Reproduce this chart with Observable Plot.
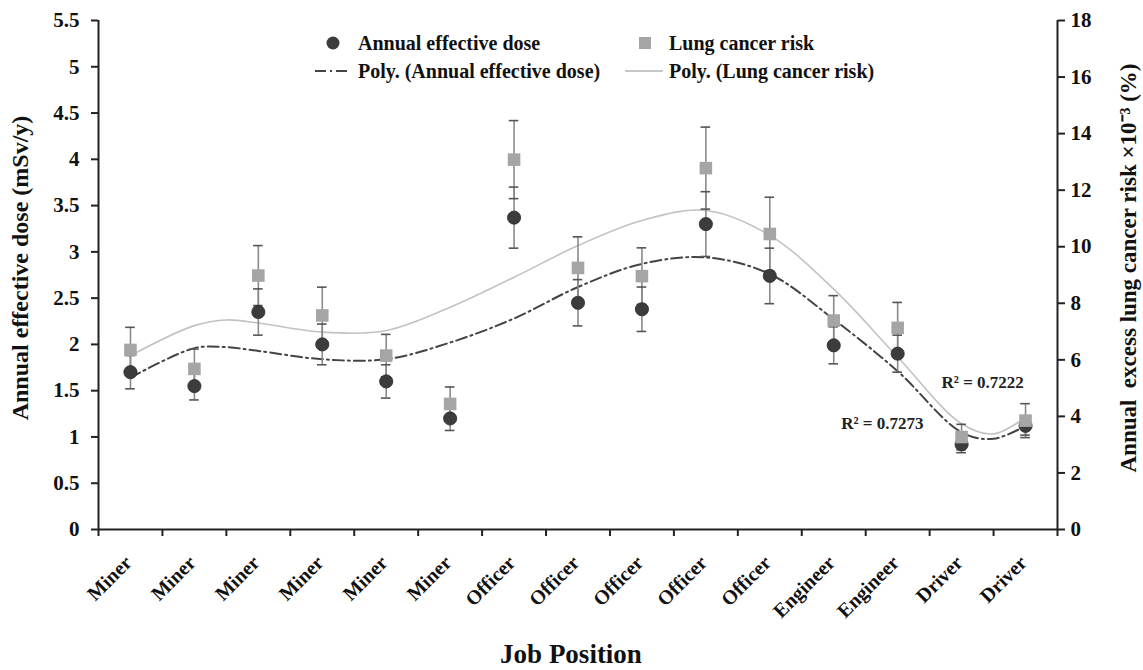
<!DOCTYPE html>
<html>
<head>
<meta charset="utf-8">
<script src="https://cdn.jsdelivr.net/npm/d3@7"></script>
<script src="https://cdn.jsdelivr.net/npm/@observablehq/plot@0.6"></script>
<style>
  html, body { margin: 0; padding: 0; background: #fff; }
  #chart { width: 1143px; height: 670px; }
</style>
</head>
<body>
<div id="chart"></div>
<script>
// ---- Data ----
const categories = ["Miner","Miner","Miner","Miner","Miner","Miner","Officer","Officer","Officer","Officer","Officer","Engineer","Engineer","Driver","Driver"];
const dose    = [1.70, 1.55, 2.35, 2.00, 1.60, 1.20, 3.37, 2.45, 2.38, 3.30, 2.74, 1.99, 1.90, 0.92, 1.12];
const doseErr = [0.18, 0.15, 0.25, 0.22, 0.18, 0.13, 0.33, 0.25, 0.24, 0.35, 0.30, 0.20, 0.20, 0.09, 0.10];
const risk    = [6.35, 5.68, 8.98, 7.57, 6.15, 4.44, 13.08, 9.25, 8.96, 12.78, 10.45, 7.39, 7.13, 3.27, 3.85];
const riskErr = [0.80, 0.70, 1.06, 1.00, 0.75, 0.60, 1.38, 1.10, 1.00, 1.45, 1.30, 0.88, 0.90, 0.45, 0.60];

// polynomial trend lines at these job-position indices
const trendPos   = [0, 1, 1.5, 2, 3, 4, 5, 6, 7, 8, 9, 10, 11, 12, 13, 13.5, 14];
const doseTrend  = [1.64, 1.96, 1.97, 1.93, 1.84, 1.84, 2.02, 2.28, 2.62, 2.87, 2.94, 2.76, 2.27, 1.71, 1.05, 0.98, 1.12];
const riskTrend  = [6.15, 7.21, 7.41, 7.30, 6.98, 7.04, 7.86, 8.92, 10.04, 10.93, 11.28, 10.40, 8.50, 6.10, 3.74, 3.38, 3.97];

const leftTicks  = [0, 0.5, 1, 1.5, 2, 2.5, 3, 3.5, 4, 4.5, 5, 5.5];
const rightTicks = [0, 2, 4, 6, 8, 10, 12, 14, 16, 18];

const r2Labels = [
  {text: "R² = 0.7222", pos: 13.33, value: 1.59},
  {text: "R² = 0.7273", pos: 11.76, value: 1.15}
];

const leftMax = 5.5, rightMax = 18;
const k = leftMax / rightMax;   // maps right-axis units to left-axis units

const rows = categories.map((c, i) => ({
  i, cat: c, dose: dose[i], de: doseErr[i], risk: risk[i] * k, re: riskErr[i] * k
}));
const trendRows = trendPos.map((p, j) => ({p, dose: doseTrend[j], risk: riskTrend[j] * k}));
const boundaries = d3.range(categories.length + 1).map(b => b - 0.5);

const FONT = "'Liberation Serif', 'Times New Roman', serif";
const DARK = "#3c3c3c", LIGHT = "#a5a5a5";

const plot = Plot.plot({
  width: 1143, height: 670,
  marginLeft: 98, marginRight: 86, marginTop: 20, marginBottom: 141,
  style: {fontFamily: FONT, fontWeight: "bold", fontSize: "21px", color: "#111", background: "#fff"},
  x: {domain: [-0.5, categories.length - 0.5], axis: null},
  y: {domain: [0, leftMax], axis: null},
  marks: [
    // axes
    Plot.axisY({anchor: "left", ticks: leftTicks, tickFormat: d => String(d), tickSize: 7, tickPadding: 12, label: null, fontSize: 21, stroke: "#222", strokeWidth: 2}),
    Plot.axisY({anchor: "right", ticks: rightTicks.map(t => t * k), tickFormat: d => String(Math.round(d / k)), tickSize: 7, tickPadding: 6, label: null, fontSize: 21, stroke: "#222", strokeWidth: 2}),
    Plot.axisX({anchor: "bottom", ticks: boundaries, tickFormat: () => "", tickSize: 7, label: null, stroke: "#222", strokeWidth: 2}),
    Plot.ruleX([-0.5, categories.length - 0.5], {stroke: "#222", strokeWidth: 2}),
    Plot.ruleY([0], {stroke: "#222", strokeWidth: 2}),
    // category labels
    Plot.text(rows, {x: "i", text: "cat", frameAnchor: "bottom", dy: 30, dx: -2, rotate: -45, textAnchor: "end", lineAnchor: "middle", fontSize: 20, fontWeight: "bold", fill: "#111"}),
    // trend lines
    Plot.line(trendRows, {x: "p", y: "risk", curve: "catmull-rom", stroke: "#c2c2c2", strokeWidth: 1.6}),
    Plot.line(trendRows, {x: "p", y: "dose", curve: "catmull-rom", stroke: "#444", strokeWidth: 2, strokeDasharray: "11,4,2,4"}),
    // error bars
    Plot.ruleX(rows, {x: "i", y1: d => d.dose - d.de, y2: d => d.dose + d.de, stroke: "#8a8a8a", strokeWidth: 1.6}),
    Plot.ruleX(rows, {x: "i", y1: d => d.risk - d.re, y2: d => d.risk + d.re, stroke: "#8a8a8a", strokeWidth: 1.6}),
    Plot.ruleY(rows, {y: d => d.dose - d.de, x1: d => d.i - 0.075, x2: d => d.i + 0.075, stroke: "#555", strokeWidth: 1.6}),
    Plot.ruleY(rows, {y: d => d.dose + d.de, x1: d => d.i - 0.075, x2: d => d.i + 0.075, stroke: "#555", strokeWidth: 1.6}),
    Plot.ruleY(rows, {y: d => d.risk - d.re, x1: d => d.i - 0.075, x2: d => d.i + 0.075, stroke: "#555", strokeWidth: 1.6}),
    Plot.ruleY(rows, {y: d => d.risk + d.re, x1: d => d.i - 0.075, x2: d => d.i + 0.075, stroke: "#555", strokeWidth: 1.6}),
    // points
    Plot.dot(rows, {x: "i", y: "dose", r: 6.6, fill: DARK, stroke: "#2a2a2a", strokeWidth: 0.8}),
    Plot.dot(rows, {x: "i", y: "risk", symbol: "square", r: 7.1, fill: LIGHT}),
    // R² labels
    Plot.text(r2Labels, {x: "pos", y: "value", text: "text", fontSize: 17, fontWeight: "bold", fill: "#222"}),
    // axis titles
    Plot.text(["Annual effective dose (mSv/y)"], {frameAnchor: "left", textAnchor: "middle", dx: -78, dy: -7, rotate: -90, fontSize: 24, fontWeight: "bold", fill: "#111"}),
    Plot.text(["Annual  excess lung cancer risk ×10⁻³ (%)"], {frameAnchor: "right", textAnchor: "middle", dx: 71, dy: -7, rotate: -90, fontSize: 23, fontWeight: "bold", fill: "#111"}),
    Plot.text(["Job Position"], {frameAnchor: "bottom", textAnchor: "middle", dx: -7, dy: 133, fontSize: 27, fontWeight: "bold", fill: "#111"})
  ]
});

// legend overlay
const svg = d3.select(plot);
const lg = svg.append("g").attr("font-family", FONT).attr("font-weight", "bold").attr("font-size", 20).attr("fill", "#111").attr("text-anchor", "start");
const legendItems = [
  {label: "Annual effective dose", kind: "circle", x: 333, tx: 358, y: 43},
  {label: "Lung cancer risk", kind: "square", x: 645, tx: 669, y: 43},
  {label: "Poly. (Annual effective dose)", kind: "dashdot", x: 315, tx: 358, y: 71},
  {label: "Poly. (Lung cancer risk)", kind: "solid", x: 625, tx: 669, y: 71}
];
legendItems.forEach(it => {
  if (it.kind === "circle") lg.append("circle").attr("cx", it.x).attr("cy", it.y).attr("r", 6.5).attr("fill", DARK);
  if (it.kind === "square") lg.append("rect").attr("x", it.x - 6).attr("y", it.y - 6).attr("width", 12).attr("height", 12).attr("fill", LIGHT);
  if (it.kind === "dashdot") lg.append("line").attr("x1", it.x).attr("x2", it.x + 34).attr("y1", it.y).attr("y2", it.y).attr("stroke", "#444").attr("stroke-width", 2).attr("stroke-dasharray", "11,4,2,4");
  if (it.kind === "solid") lg.append("line").attr("x1", it.x).attr("x2", it.x + 38).attr("y1", it.y).attr("y2", it.y).attr("stroke", "#b5b5b5").attr("stroke-width", 1.6);
  lg.append("text").attr("x", it.tx).attr("y", it.y + 7).attr("text-anchor", "start").text(it.label);
});

document.getElementById("chart").appendChild(plot);
</script>
</body>
</html>
